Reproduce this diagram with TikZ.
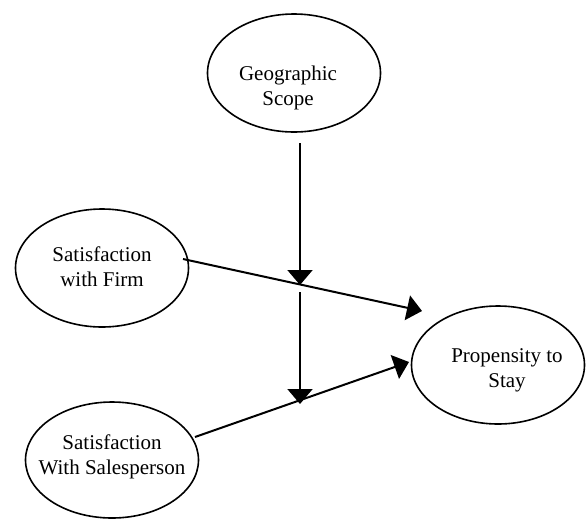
\documentclass[tikz,border=0pt]{standalone}
\usepackage{fontspec}
\setmainfont{Liberation Serif}
\usetikzlibrary{shapes.geometric,arrows.meta}
\tikzset{
  construct/.style={draw, ellipse, line width=1.6pt, minimum width=173pt, minimum height=118pt, inner sep=0pt},
  caption/.style={align=center, inner sep=0pt, font=\fontsize{21}{25}\selectfont},
  path/.style={line width=2pt, ->}
}
\begin{document}
\begin{tikzpicture}[x=1pt, y=-1pt, >={Triangle[length=15pt,width=25pt]}]
  \useasboundingbox (0,0) rectangle (586,520);

  \node[construct] (geo) at (294,73) {};
  \node[caption] (geotext) at (288,88) {Geographic\\Scope};

  \node[construct] (firm) at (102,268) {};
  \node[caption] (firmtext) at (102,267) {Satisfaction\\with Firm};

  \node[construct] (prop) at (498,365) {};
  \node[caption] (proptext) at (507,370) {Propensity to\\Stay};

  \node[construct, minimum height=116pt] (sales) at (112,460) {};
  \node[caption] (salestext) at (112,457) {Satisfaction\\With Salesperson};

  \coordinate (geoout) at (300,143);
  \coordinate (M1) at (300,285);
  \coordinate (M1b) at (300,292);
  \coordinate (M2) at (300,404);
  \coordinate (firmout) at (183,259);
  \coordinate (propin1) at (422,311);
  \coordinate (salesout) at (195,437);
  \coordinate (propin2) at (409,362);

  \draw[path] (firmout) -- (propin1);
  \draw[path] (salesout) -- (propin2);
  \draw[path] (geoout) -- (M1);
  \draw[path] (M1b) -- (M2);
\end{tikzpicture}
\end{document}
